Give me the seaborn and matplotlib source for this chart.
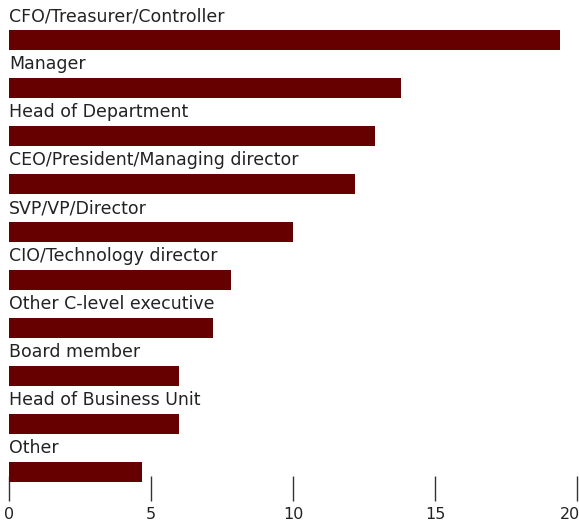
import matplotlib
matplotlib.use("Agg")
import matplotlib.pyplot as plt
import matplotlib.transforms as mtransforms
import seaborn as sns
import pandas as pd

roles = [
    "CFO/Treasurer/Controller",
    "Manager",
    "Head of Department",
    "CEO/President/Managing director",
    "SVP/VP/Director",
    "CIO/Technology director",
    "Other C-level executive",
    "Board member",
    "Head of Business Unit",
    "Other",
]
shares = [19.4, 13.8, 12.9, 12.2, 10.0, 7.8, 7.2, 6.0, 6.0, 4.7]
xticks = [0, 5, 10, 15, 20]

sns.set_style("white")
plt.rcParams["font.family"] = ["DejaVu Sans"]

df = pd.DataFrame({"role": roles, "share": shares})

fig = plt.figure(figsize=(5.79, 5.25), dpi=100)
ax = fig.add_axes([9 / 579, 24 / 525, 568 / 579, 501 / 525])

bar_h = 20 / 48
sns.barplot(data=df, x="share", y="role", orient="h", color="#660000",
            saturation=1, width=bar_h, linewidth=0, ax=ax)

for i, name in enumerate(roles):
    ax.text(0, i - bar_h / 2 - 0.1, name, ha="left", va="bottom",
            fontsize=12.5, color="#222222")

ax.set_xlim(0, 20)
ax.set_ylim(461 / 48, -40 / 48)
ax.set_yticks([])
ax.set_xticks(xticks)
ax.set_xticklabels([str(t) for t in xticks], fontsize=11.5, color="#222222")
ax.tick_params(axis="x", direction="in", length=18, width=1, color="#333333",
               pad=4, bottom=True)
# keep the rightmost tick label inside the figure edge
last = ax.get_xticklabels()[-1]
last.set_transform(last.get_transform() +
                   mtransforms.ScaledTranslation(-7 / 100, 0, fig.dpi_scale_trans))
ax.set_xlabel("")
ax.set_ylabel("")
for s in ax.spines.values():
    s.set_visible(False)

fig.savefig("out.png", dpi=100)
